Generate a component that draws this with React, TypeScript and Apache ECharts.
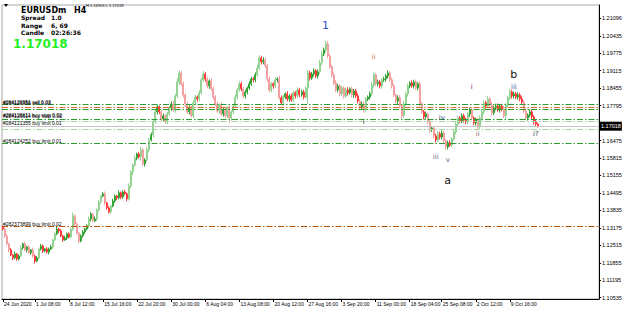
import React, { useEffect, useRef } from "react";
import * as echarts from "echarts";

// H4 closes (24 Jun 2020 -> 14 Oct 2020)
const closes: number[] = [
  1.1313, 1.1287, 1.1257, 1.1234, 1.1215, 1.1204, 1.1219, 1.1200, 1.1211, 1.1242,
  1.1257, 1.1234, 1.1245, 1.1223, 1.1234, 1.1211, 1.1192, 1.1204, 1.1238, 1.1249,
  1.1230, 1.1238, 1.1226, 1.1238, 1.1245, 1.1272, 1.1295, 1.1313, 1.1306, 1.1287,
  1.1272, 1.1279, 1.1295, 1.1283, 1.1313, 1.1363, 1.1332, 1.1298, 1.1268, 1.1287,
  1.1302, 1.1313, 1.1325, 1.1351, 1.1370, 1.1344, 1.1351, 1.1385, 1.1415, 1.1438,
  1.1446, 1.1412, 1.1393, 1.1378, 1.1400, 1.1419, 1.1438, 1.1431, 1.1450, 1.1434,
  1.1453, 1.1446, 1.1427, 1.1476, 1.1529, 1.1555, 1.1582, 1.1597, 1.1586, 1.1612,
  1.1559, 1.1574, 1.1612, 1.1650, 1.1669, 1.1718, 1.1756, 1.1775, 1.1756, 1.1729,
  1.1741, 1.1718, 1.1748, 1.1771, 1.1786, 1.1763, 1.1816, 1.1869, 1.1903, 1.1862,
  1.1820, 1.1786, 1.1756, 1.1771, 1.1741, 1.1790, 1.1812, 1.1805, 1.1828, 1.1877,
  1.1899, 1.1880, 1.1854, 1.1873, 1.1843, 1.1812, 1.1786, 1.1759, 1.1782, 1.1748,
  1.1763, 1.1741, 1.1771, 1.1733, 1.1756, 1.1778, 1.1812, 1.1839, 1.1862, 1.1843,
  1.1816, 1.1831, 1.1846, 1.1862, 1.1880, 1.1877, 1.1896, 1.1922, 1.1960, 1.1945,
  1.1952, 1.1930, 1.1880, 1.1839, 1.1862, 1.1854, 1.1877, 1.1880, 1.1809, 1.1790,
  1.1812, 1.1824, 1.1805, 1.1816, 1.1801, 1.1828, 1.1816, 1.1839, 1.1820, 1.1831,
  1.1812, 1.1846, 1.1903, 1.1884, 1.1899, 1.1911, 1.1892, 1.1907, 1.1941, 1.1975,
  1.1990, 1.2013, 1.1967, 1.1926, 1.1896, 1.1865, 1.1839, 1.1854, 1.1824, 1.1846,
  1.1816, 1.1839, 1.1828, 1.1843, 1.1820, 1.1835, 1.1816, 1.1797, 1.1771, 1.1786,
  1.1763, 1.1805, 1.1812, 1.1824, 1.1858, 1.1896, 1.1862, 1.1869, 1.1854, 1.1877,
  1.1880, 1.1892, 1.1903, 1.1877, 1.1854, 1.1820, 1.1797, 1.1809, 1.1778, 1.1741,
  1.1786, 1.1824, 1.1854, 1.1865, 1.1854, 1.1869, 1.1846, 1.1862, 1.1786, 1.1756,
  1.1737, 1.1748, 1.1718, 1.1688, 1.1695, 1.1665, 1.1650, 1.1673, 1.1661, 1.1676,
  1.1646, 1.1623, 1.1639, 1.1631, 1.1654, 1.1680, 1.1710, 1.1733, 1.1722, 1.1741,
  1.1725, 1.1718, 1.1748, 1.1763, 1.1733, 1.1714, 1.1725, 1.1699, 1.1733, 1.1756,
  1.1790, 1.1778, 1.1805, 1.1782, 1.1752, 1.1771, 1.1778, 1.1763, 1.1778, 1.1767,
  1.1741, 1.1782, 1.1809, 1.1831, 1.1816, 1.1824, 1.1812, 1.1820, 1.1805, 1.1793,
  1.1759, 1.1733, 1.1744, 1.1756, 1.1737, 1.1718, 1.1710, 1.17018,
];
// estimated wick lengths above / below each body, in pips
const upperWickPips: number[] = [
  6, 4, 8, 5, 7, 3, 9, 4, 6, 10, 5, 8, 4, 7, 3, 9, 5, 6, 4, 8,
  6, 3, 7, 5, 9, 4, 6, 8, 5, 7, 4, 9, 5, 6, 8, 12, 5, 7, 4, 6,
  8, 5, 6, 9, 7, 4, 10, 6, 8, 5, 7, 9, 4, 6, 5, 8, 6, 4, 9, 5,
  6, 8, 5, 10, 7, 6, 9, 5, 8, 12, 6, 7, 10, 8, 9, 6, 11, 7, 5, 8,
  9, 6, 8, 7, 10, 12, 8, 14, 10, 7, 9, 6, 8, 11, 7, 9, 8, 6, 10, 8,
  12, 7, 9, 6, 10, 8, 7, 9, 6, 11, 8, 10, 7, 9, 6, 8, 10, 7, 9, 8,
  7, 9, 6, 10, 8, 7, 9, 12, 10, 8, 11, 9, 7, 10, 8, 6, 9, 7, 12, 9,
  8, 6, 10, 7, 9, 8, 6, 10, 7, 9, 8, 7, 12, 9, 8, 10, 7, 9, 11, 10,
  9, 12, 10, 8, 7, 9, 10, 8, 6, 9, 7, 8, 10, 6, 9, 7, 8, 10, 7, 9,
  10, 8, 6, 9, 11, 10, 7, 9, 8, 6, 9, 8, 10, 7, 9, 8, 6, 9, 10, 8,
  11, 8, 9, 7, 10, 8, 9, 6, 10, 8, 7, 9, 6, 10, 8, 7, 9, 11, 8, 10,
  9, 7, 8, 10, 6, 9, 11, 8, 7, 10, 8, 9, 7, 10, 8, 6, 9, 8, 10, 7,
  9, 8, 10, 7, 11, 8, 9, 10, 7, 8, 10, 7, 9, 12, 8, 9, 7, 10, 8, 9,
  7, 9, 6, 10, 8, 7, 9, 5,
];
const lowerWickPips: number[] = [
  5, 7, 6, 9, 4, 8, 5, 7, 6, 4, 7, 5, 9, 4, 8, 6, 10, 5, 7, 6,
  8, 5, 6, 9, 4, 7, 5, 6, 9, 5, 7, 4, 8, 6, 5, 7, 9, 6, 8, 5,
  6, 8, 5, 7, 9, 6, 4, 8, 6, 7, 5, 9, 7, 6, 8, 5, 7, 9, 6, 8,
  7, 5, 9, 6, 8, 12, 6, 9, 7, 14, 8, 10, 7, 9, 6, 8, 7, 10, 9, 8,
  10, 8, 9, 7, 11, 8, 10, 9, 12, 8, 9, 11, 8, 10, 7, 9, 8, 11, 9, 7,
  8, 10, 9, 11, 8, 10, 9, 7, 10, 9, 10, 8, 9, 18, 11, 9, 8, 10, 7, 9,
  8, 10, 9, 7, 8, 10, 9, 7, 8, 10, 9, 7, 10, 8, 9, 11, 8, 10, 7, 9,
  10, 8, 9, 11, 7, 9, 10, 8, 9, 7, 9, 8, 60, 10, 7, 9, 8, 10, 7, 9,
  8, 10, 9, 7, 11, 9, 8, 10, 9, 8, 9, 8, 10, 7, 9, 11, 8, 9, 10, 8,
  10, 9, 8, 10, 7, 9, 8, 10, 9, 11, 8, 10, 9, 7, 10, 8, 9, 12, 8, 10,
  9, 8, 10, 9, 7, 10, 8, 9, 10, 8, 10, 8, 9, 11, 8, 9, 10, 8, 9, 10,
  8, 10, 9, 7, 10, 8, 9, 10, 8, 9, 10, 9, 8, 11, 9, 8, 10, 9, 8, 10,
  9, 10, 8, 9, 10, 8, 9, 7, 10, 9, 8, 10, 9, 8, 10, 9, 8, 10, 9, 8,
  9, 8, 10, 9, 8, 10, 9, 6,
];
const firstOpen = 1.1320;
const totalSlots = 298; // bars + right-hand chart shift

const xLabels = [
  "24 Jun 2020", "1 Jul 08:00", "8 Jul 12:00", "15 Jul 16:00", "22 Jul 20:00",
  "30 Jul 00:00", "6 Aug 04:00", "13 Aug 08:00", "20 Aug 12:00", "27 Aug 16:00",
  "3 Sep 20:00", "11 Sep 00:00", "18 Sep 04:00", "25 Sep 08:00", "2 Oct 12:00", "9 Oct 16:00",
];
const xLabelBars = [0, 16, 33, 50, 67, 84, 101, 118, 135, 152, 169, 186, 203, 219, 236, 253];

const yTicks = [
  1.10535, 1.11195, 1.11855, 1.12515, 1.13175, 1.13835, 1.14495, 1.15155, 1.15815,
  1.16475, 1.17135, 1.17795, 1.18455, 1.19115, 1.19775, 1.20435, 1.21096,
];
// 1.17135 sits under the bid price box in the reference
const yLabelValues = yTicks.filter((v) => v !== 1.17135);
const yMin = 1.10486;
const yMax = 1.21599;

const bid = 1.17018;
const orderLevels = [1.1784, 1.1775, 1.1767, 1.1728, 1.1719, 1.1690, 1.1637, 1.1323];
const orderKinds = ["green", "orange", "green", "green", "light", "light", "green", "brown"];
const orderTexts = [
  { level: 1.1785, text: "#284126951 sell 0.03" },
  { level: 1.1781, text: "#284126956 sell 0.03" },
  { level: 1.1733, text: "#284126611 buy stop 0.02" },
  { level: 1.1729, text: "#284126614 buy stop 0.02" },
  { level: 1.1703, text: "#284121355 buy limit 0.01" },
  { level: 1.1638, text: "#284124252 buy limit 0.01" },
  { level: 1.1324, text: "#282373899 buy limit 0.02" },
];

const waveMarks = [
  { text: "1", bar: 161, price: 1.2081, kind: "big1" },
  { text: "ii", bar: 185, price: 1.1964, kind: "orange" },
  { text: "i", bar: 179.5, price: 1.1718, kind: "dark" },
  { text: "iv", bar: 219.3, price: 1.1732, kind: "navy" },
  { text: "iii", bar: 216, price: 1.1587, kind: "grey" },
  { text: "v", bar: 222.3, price: 1.1574, kind: "grey" },
  { text: "a", bar: 222, price: 1.1498, kind: "big" },
  { text: "i", bar: 233.5, price: 1.1851, kind: "maroon" },
  { text: "ii", bar: 237, price: 1.1671, kind: "brownish" },
  { text: "b", bar: 255, price: 1.1899, kind: "big" },
  { text: "iii", bar: 254.7, price: 1.1851, kind: "blue" },
  { text: "i?", bar: 266, price: 1.1674, kind: "dark" },
];

const infoRows = [
  { label: "Spread", value: "1.0" },
  { label: "Range", value: "6, 69" },
  { label: "Candle", value: "02:26:36" },
];

const FONT = "'DejaVu Sans', Verdana, sans-serif";
const SMALL = "'Liberation Sans', Arial, sans-serif";

const lineColors: Record<string, string> = {
  green: "#2f9a2f",
  orange: "#e0662a",
  light: "#9fd79f",
  brown: "#b35200",
};
const waveColors: Record<string, string> = {
  big1: "#2d55c8",
  orange: "#d0783a",
  dark: "#333344",
  navy: "#2e3570",
  grey: "#666680",
  big: "#111111",
  maroon: "#7a2a55",
  brownish: "#8a6a6a",
  blue: "#4a5fa0",
};

export default function App() {
  const ref = useRef<HTMLDivElement>(null);

  useEffect(() => {
    if (!ref.current) return;
    const chart = echarts.init(ref.current, null, { renderer: "svg" });

    const cats: string[] = [];
    for (let i = 0; i < totalSlots; i++) cats.push("");
    xLabelBars.forEach((b, k) => (cats[b] = xLabels[k]));
    const tickSet = new Set(xLabelBars);

    const candles = closes.map((c, i) => {
      const o = i === 0 ? firstOpen : closes[i - 1];
      const up = c >= o;
      const big = Math.abs(c - o) > 0.0021;
      const edge = up ? "#35a335" : "#ff3c3c";
      const fill = up ? (big ? "#92d392" : "#35a335") : big ? "#f5a0a0" : "#ff3c3c";
      return {
        value: [
          o,
          c,
          Math.min(o, c) - lowerWickPips[i] * 0.0001,
          Math.max(o, c) + upperWickPips[i] * 0.0001,
        ],
        itemStyle: { color: fill, color0: fill, borderColor: big ? fill : edge, borderColor0: big ? fill : edge, borderWidth: 1 },
      };
    });

    const markLines: any[] = orderLevels.map((lv, k) => ({
      yAxis: lv,
      lineStyle: { color: lineColors[orderKinds[k]], type: [6, 2, 1.5, 2], width: 1 },
      label: { show: false },
    }));
    markLines.push({
      yAxis: bid,
      lineStyle: { color: "#c4c4c4", type: "solid", width: 1 },
      label: {
        show: true,
        position: "end",
        formatter: bid.toFixed(5),
        backgroundColor: "#000",
        color: "#fff",
        fontSize: 5.5,
        fontFamily: SMALL,
        padding: [2, 1, 1, 1],
        distance: 1,
      },
    });
    orderTexts.forEach((t) =>
      markLines.push({
        yAxis: t.level,
        lineStyle: { color: "rgba(0,0,0,0)", width: 0 },
        label: {
          show: true,
          position: "insideStartTop",
          formatter: t.text,
          color: "#000",
          fontSize: 5,
          fontFamily: SMALL,
          distance: [1, 0],
        },
      })
    );

    const markPoints = waveMarks.map((w) => {
      const bigText = w.kind === "big" || w.kind === "big1";
      return {
        coord: [w.bar, w.price],
        value: w.text,
        symbol: "rect",
        symbolSize: 1,
        itemStyle: { color: "rgba(0,0,0,0)" },
        label: {
          show: true,
          position: "inside",
          formatter: w.text,
          color: waveColors[w.kind],
          fontSize: bigText ? 11 : 7,
          fontFamily: FONT,
        },
      };
    });

    const graphics: any[] = [
      { type: "polygon", shape: { points: [[4, 4], [8, 4], [6, 7]] }, style: { fill: "#000" } },
      { type: "text", x: 21, y: 10, style: { text: "EURUSDm", font: `bold 8px ${FONT}`, fill: "#000", verticalAlign: "middle" } },
      { type: "text", x: 74, y: 10, style: { text: "H4", font: `bold 8px ${FONT}`, fill: "#000", verticalAlign: "middle" } },
      { type: "text", x: 86, y: 5, style: { text: "H:1.16903 L:1.17018", font: `4px ${SMALL}`, fill: "#000", verticalAlign: "middle" } },
      { type: "text", x: 13, y: 44, style: { text: "1.17018", font: `bold 12px ${FONT}`, fill: "#22ee22", verticalAlign: "middle" } },
    ];
    infoRows.forEach((r, k) => {
      graphics.push({ type: "text", x: 21, y: 17.5 + k * 7.5, style: { text: r.label, font: `bold 6px ${FONT}`, fill: "#000", verticalAlign: "middle" } });
      graphics.push({ type: "text", x: 51, y: 17.5 + k * 7.5, style: { text: r.value, font: `bold 6px ${FONT}`, fill: "#000", verticalAlign: "middle" } });
    });

    chart.setOption({
      animation: false,
      backgroundColor: "#ffffff",
      grid: {
        left: 2,
        right: 26,
        top: 5,
        bottom: 14,
        containLabel: false,
        outerBoundsMode: "none",
        show: true,
        borderColor: "#a8a8a8",
        borderWidth: 1,
      },
      xAxis: {
        type: "category",
        data: cats,
        boundaryGap: true,
        axisLine: { show: true, lineStyle: { color: "#000", width: 1 } },
        axisTick: { show: true, interval: (i: number) => tickSet.has(i), length: 3, alignWithLabel: true, lineStyle: { color: "#000" } },
        axisLabel: {
          show: true,
          interval: (i: number) => tickSet.has(i),
          align: "left",
          fontSize: 5,
          fontFamily: SMALL,
          color: "#000",
          margin: 2,
          padding: [0, 0, 0, 1],
        },
        splitLine: { show: false },
      },
      yAxis: {
        type: "value",
        position: "right",
        min: yMin,
        max: yMax,
        axisLine: { show: true, lineStyle: { color: "#000", width: 1 } },
        axisTick: { show: true, customValues: yTicks, length: 2, lineStyle: { color: "#000" } },
        axisLabel: {
          show: true,
          customValues: yLabelValues,
          formatter: (v: number) => v.toFixed(5),
          fontSize: 5.5,
          fontFamily: SMALL,
          color: "#000",
          margin: 3,
        },
        splitLine: { show: false },
      },
      series: [
        {
          type: "candlestick",
          data: candles,
          barWidth: 1.5,
          markLine: { symbol: "none", silent: true, precision: 6, data: markLines, animation: false },
          markPoint: { data: markPoints, animation: false, silent: true },
        },
      ],
      graphic: graphics,
    });

    return () => chart.dispose();
  }, []);

  return <div ref={ref} style={{ position: "fixed", left: 0, top: 0, width: 625, height: 313 }} />;
}
